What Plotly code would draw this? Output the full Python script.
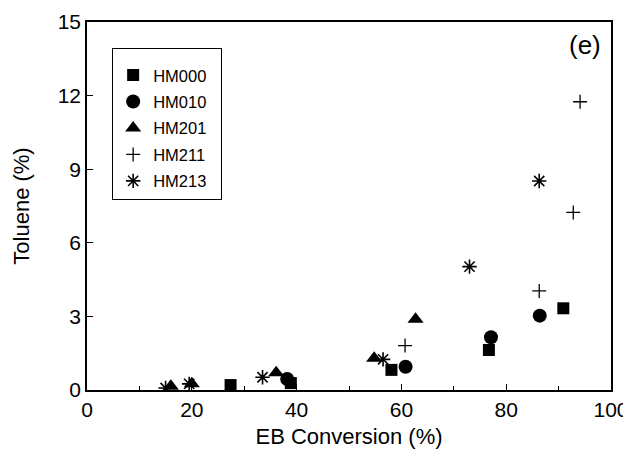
import plotly.graph_objects as go

# Data
hm000_x = [27.4, 38.9, 58.1, 76.7, 90.9]
hm000_y = [0.20, 0.28, 0.82, 1.63, 3.33]

hm010_x = [38.2, 60.8, 77.1, 86.4]
hm010_y = [0.45, 0.95, 2.15, 3.03]

hm201_x = [16.0, 20.0, 36.1, 54.8, 62.7]
hm201_y = [0.15, 0.25, 0.70, 1.29, 2.88]

hm211_x = [60.7, 86.3, 92.8, 94.1]
hm211_y = [1.81, 4.04, 7.24, 11.75]

hm213_x = [15.0, 19.5, 33.5, 56.5, 73.0, 86.3]
hm213_y = [0.08, 0.25, 0.52, 1.25, 5.03, 8.52]

x_ticks = [0, 20, 40, 60, 80, 100]
y_ticks = [0, 3, 6, 9, 12, 15]

FONT = "Liberation Sans, Arial, sans-serif"

fig = go.Figure()

series = [
    ("HM000", hm000_x, hm000_y, "square", 12, 0),
    ("HM010", hm010_x, hm010_y, "circle", 14, 0),
    ("HM201", hm201_x, hm201_y, "triangle-up", 14, 0),
    ("HM211", hm211_x, hm211_y, "cross-thin", 10, 1.3),
    ("HM213", hm213_x, hm213_y, "asterisk", 12, 1.6),
]
for i, (name, xs, ys, sym, size, lw) in enumerate(series):
    fig.add_trace(go.Scatter(
        x=xs, y=ys, mode="markers", name=name + "\u00a0\u00a0",
        legendgroup=f"g{i}",
        marker=dict(symbol=sym, size=size, color="black",
                    line=dict(color="black", width=lw)),
    ))

axis_common = dict(
    showgrid=False, zeroline=False, showline=True, linecolor="black",
    linewidth=1.5, mirror=True, ticks="inside", ticklen=6, tickwidth=1,
    tickcolor="black", tickfont=dict(family=FONT, size=21, color="black"),
    automargin=False,
)

fig.update_xaxes(
    range=[0, 100], tickvals=x_ticks,
    minor=dict(ticks="inside", tickvals=[10, 30, 50, 70, 90], ticklen=4,
               tickcolor="black"),
    title=dict(text="EB Conversion (%)", font=dict(family=FONT, size=22, color="black"),
               standoff=9),
    **axis_common,
)
fig.update_yaxes(
    range=[0, 15], tickvals=y_ticks,
    title=dict(text="Toluene (%)", font=dict(family=FONT, size=22, color="black"),
               standoff=22),
    **axis_common,
)

fig.add_annotation(
    x=0.985, y=0.985, xref="paper", yref="paper", text="(e)", showarrow=False,
    xanchor="right", yanchor="top", font=dict(family=FONT, size=26, color="black"),
)

# The page body has an 8px default margin, so the figure is 8px smaller
fig.update_layout(
    width=623, height=448,
    margin=dict(l=79, r=20, t=14, b=66),
    plot_bgcolor="white", paper_bgcolor="white",
    font=dict(family=FONT, color="black"),
    legend=dict(
        x=0.048, y=0.93, xanchor="left", yanchor="top",
        bordercolor="black", borderwidth=1, bgcolor="white",
        font=dict(family=FONT, size=16.5, color="black"),
        tracegroupgap=2, itemwidth=30,
        title=dict(text=" ", font=dict(size=7)),
    ),
)

fig.write_html("out.html")
